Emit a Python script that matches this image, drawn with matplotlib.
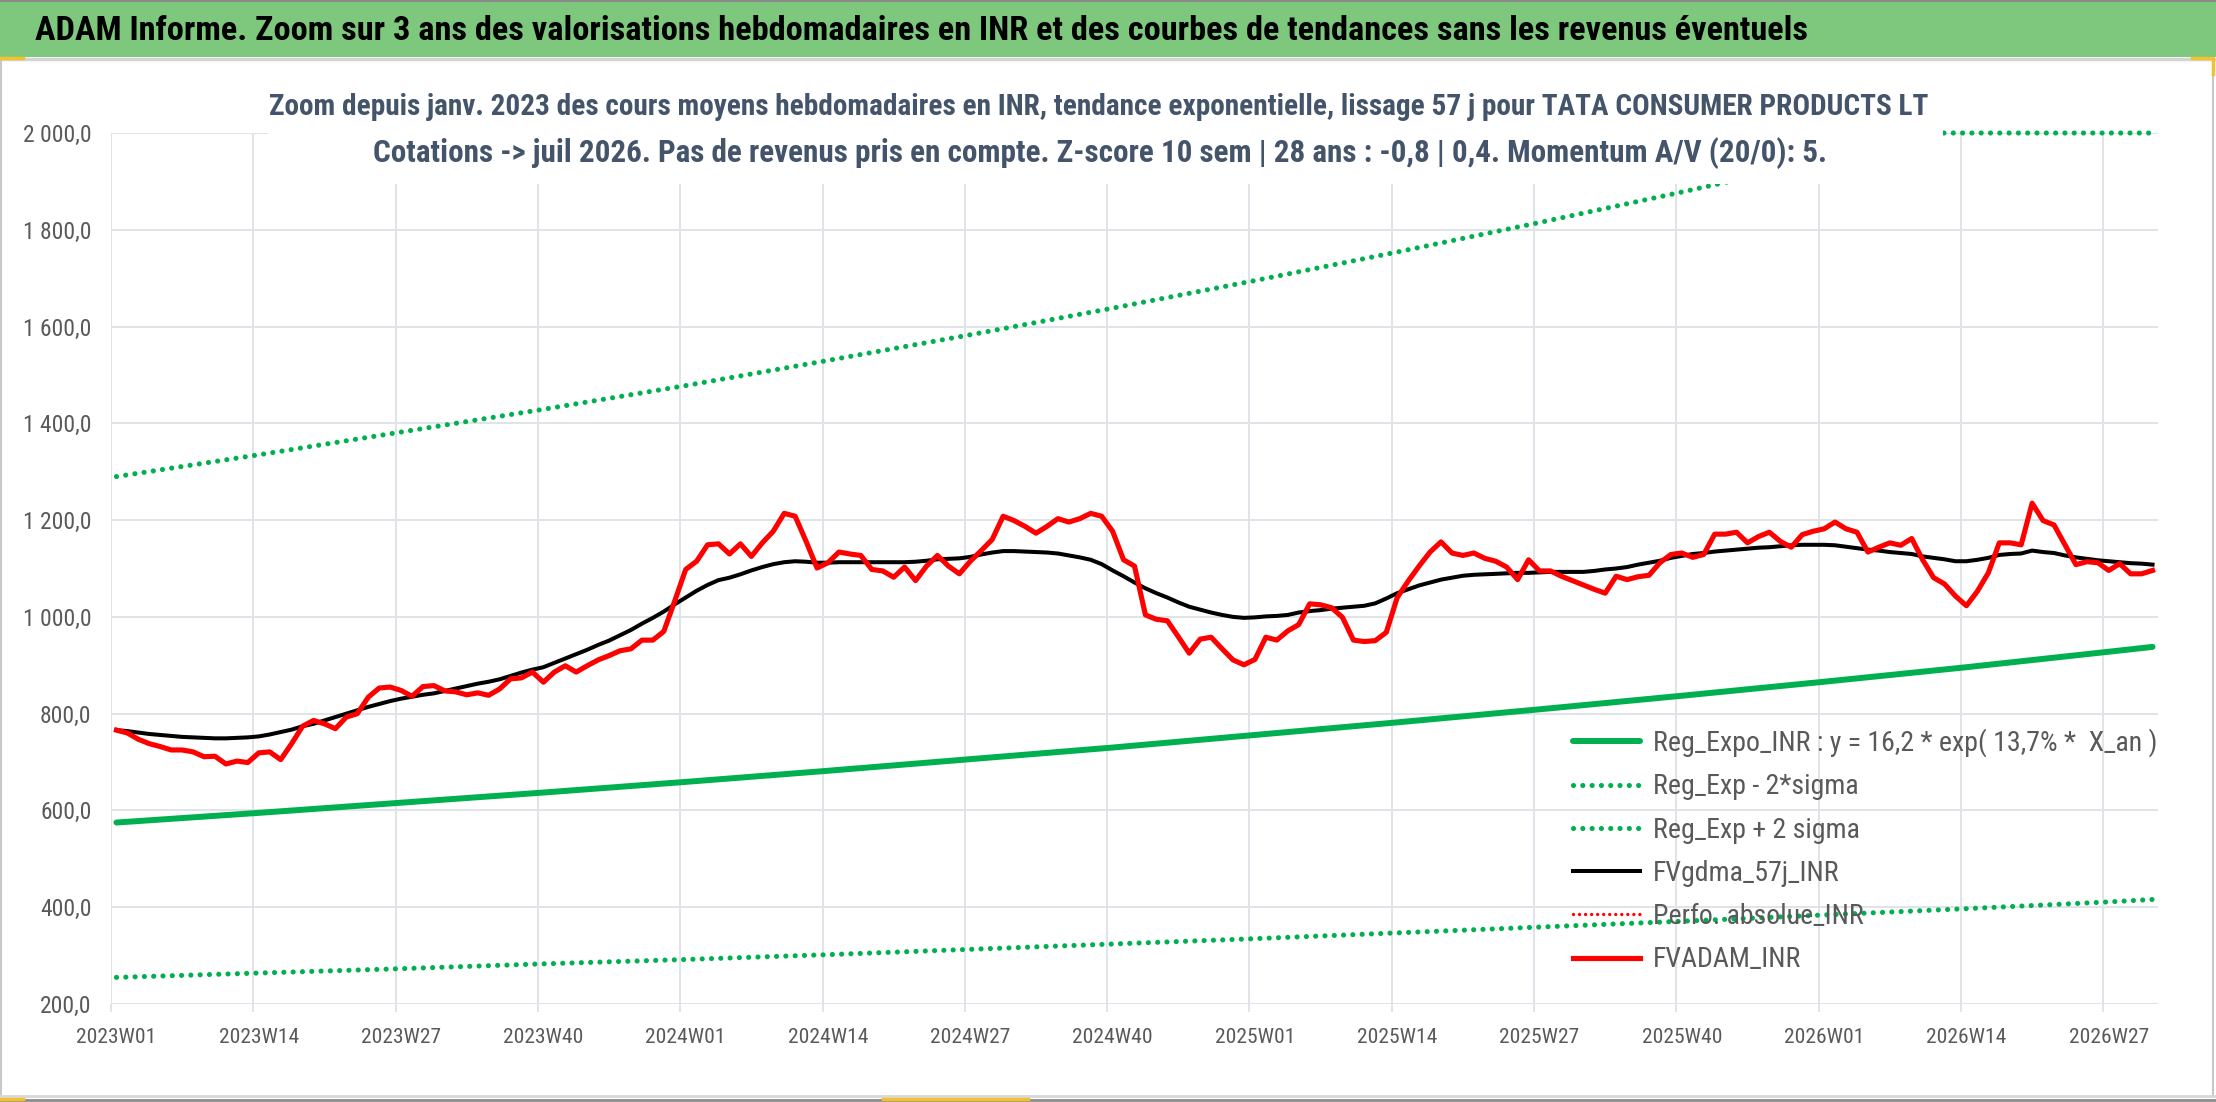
import numpy as np
import matplotlib.pyplot as plt
from matplotlib.patches import Rectangle
from matplotlib.lines import Line2D
from matplotlib.ticker import FuncFormatter

W, H = 2216, 1102
DPI = 100

plt.rcParams['font.family'] = ['Liberation Sans Narrow', 'Roboto Condensed', 'Liberation Sans',
                               'DejaVu Sans']

# weekly average price (FVADAM_INR), 2023W01 .. 2026W31
fvadam = [766, 760, 747, 738, 732, 725, 725, 721, 711, 712,
          696, 702, 699, 719, 721, 705, 738, 774, 786, 779,
          769, 793, 800, 834, 853, 855, 848, 836, 856, 858,
          847, 845, 839, 843, 838, 851, 872, 874, 886, 865,
          886, 899, 886, 899, 911, 920, 930, 934, 952, 952,
          970, 1033, 1098, 1115, 1149, 1151, 1130, 1151, 1125, 1153,
          1177, 1214, 1208, 1156, 1101, 1112, 1134, 1130, 1127, 1098,
          1095, 1082, 1103, 1075, 1105, 1127, 1105, 1089, 1115, 1137,
          1160, 1208, 1199, 1187, 1173, 1187, 1203, 1196, 1203, 1214,
          1208, 1177, 1118, 1105, 1004, 995, 992, 959, 925, 954,
          958, 934, 911, 901, 912, 958, 952, 971, 984, 1027,
          1025, 1019, 999, 952, 949, 951, 968, 1040, 1074, 1105,
          1134, 1155, 1132, 1127, 1132, 1121, 1115, 1103, 1077, 1118,
          1095, 1095, 1084, 1075, 1066, 1057, 1049, 1084, 1077, 1083,
          1086, 1112, 1129, 1132, 1123, 1129, 1171, 1171, 1175, 1153,
          1166, 1175, 1156, 1144, 1170, 1177, 1182, 1196, 1182, 1175,
          1134, 1144, 1153, 1148, 1162, 1118, 1081, 1068, 1043, 1023,
          1053, 1091, 1153, 1153, 1149, 1235, 1199, 1190, 1149, 1108,
          1114, 1112, 1096, 1110, 1089, 1089, 1096]

# 57 day smoothing (FVgdma_57j_INR)
fvgdma = [766, 764, 761, 758, 756, 754, 752, 751, 750, 749,
          749, 750, 751, 753, 757, 762, 767, 774, 779, 786,
          793, 800, 807, 814, 820, 826, 831, 835, 839, 842,
          847, 852, 857, 862, 866, 871, 878, 885, 891, 896,
          905, 914, 923, 932, 942, 951, 962, 973, 986, 998,
          1011, 1026, 1040, 1054, 1066, 1076, 1081, 1088, 1096, 1103,
          1109, 1113, 1115, 1114, 1112, 1112, 1113, 1113, 1113, 1113,
          1113, 1113, 1113, 1114, 1116, 1119, 1120, 1121, 1124, 1129,
          1133, 1136, 1136, 1135, 1134, 1133, 1131, 1127, 1123, 1118,
          1109, 1096, 1084, 1071, 1059, 1049, 1040, 1030, 1021, 1015,
          1009, 1004, 1000, 998, 999, 1001, 1002, 1004, 1009, 1012,
          1014, 1017, 1019, 1021, 1023, 1028, 1038, 1049, 1057, 1065,
          1071, 1077, 1081, 1085, 1087, 1088, 1089, 1090, 1091, 1091,
          1092, 1093, 1093, 1093, 1093, 1095, 1098, 1100, 1103, 1108,
          1112, 1116, 1122, 1126, 1130, 1132, 1135, 1137, 1139, 1141,
          1143, 1144, 1146, 1148, 1149, 1149, 1149, 1148, 1145, 1142,
          1139, 1137, 1134, 1132, 1130, 1125, 1122, 1119, 1115, 1115,
          1118, 1122, 1128, 1130, 1131, 1137, 1134, 1132, 1127, 1123,
          1120, 1117, 1115, 1113, 1111, 1110, 1108]

# exponential trend and bands, read every 13 weeks
trend_weeks = [0, 13, 26, 39, 52, 65, 78, 91, 104, 117, 130, 143, 156, 169, 182, 186]
reg_expo = [575, 595, 616, 637, 659, 682, 706, 730, 756, 782, 809, 837, 866, 896, 928, 938]
reg_low = [255, 264, 273, 283, 292, 302, 313, 324, 335, 347, 359, 371, 384, 397, 411, 416]
high_weeks = [0, 13, 26, 39, 52, 65, 78, 91, 104, 117, 130, 143, 156, 166, 186]
reg_high = [1290, 1335, 1382, 1429, 1478, 1530, 1583, 1638, 1695, 1754, 1815, 1878, 1943, 2000, 2000]

tick_labels = ['2023W01', '2023W14', '2023W27', '2023W40', '2024W01', '2024W14', '2024W27',
               '2024W40', '2025W01', '2025W14', '2025W27', '2025W40', '2026W01', '2026W14',
               '2026W27']
y_ticks = [200, 400, 600, 800, 1000, 1200, 1400, 1600, 1800, 2000]

legend_labels = ['Reg_Expo_INR : y = 16,2 * exp( 13,7% *  X_an )', 'Reg_Exp - 2*sigma',
                 'Reg_Exp + 2 sigma', 'FVgdma_57j_INR', 'Perfo. absolue_INR', 'FVADAM_INR']

header = ('ADAM Informe. Zoom sur 3 ans des valorisations hebdomadaires en INR '
          'et des courbes de tendances sans les revenus éventuels')
title_1 = ('Zoom depuis janv. 2023 des cours moyens hebdomadaires en INR, tendance exponentielle, '
           'lissage 57 j pour TATA CONSUMER PRODUCTS LT')
title_2 = ('Cotations -> juil 2026. Pas de revenus pris en compte. Z-score 10 sem | 28 ans : '
           '-0,8 | 0,4. Momentum A/V (20/0): 5.')

GREEN = '#00b050'
GRID = '#e0e3e8'
TEXT = '#595959'
HANDLE = '#f2c12e'
DOTS = (0, (0.01, 1.8))


def px_x(x):
    return x / W


def px_y(y):
    return 1 - y / H


def measure(text, size, weight='normal'):
    t = fig.text(0, 0, text, fontsize=size, fontweight=weight)
    ext = t.get_window_extent(fig.canvas.get_renderer())
    t.remove()
    return ext.width, ext.height


def size_for(text, width_px, weight='normal', base=20):
    # font size (pt) giving the text the width it has in the reference
    return base * width_px / measure(text, base, weight)[0]


fig = plt.figure(figsize=(W / DPI, H / DPI), dpi=DPI)
ax = fig.add_axes([px_x(111), px_y(1004), (2158 - 111) / W, (1004 - 133) / H])

tick_fs = size_for('2023W01', 80)
ytick_fs = size_for('1 800,0', 68)
# the longest label must stay inside the frame
leg_fs = min(size_for('Reg_Exp - 2*sigma', 234), size_for(legend_labels[0], 505))

weeks = np.arange(len(fvadam))
ax.plot(trend_weeks, reg_expo, color=GREEN, lw=4.3, solid_capstyle='round', label=legend_labels[0])
ax.plot(trend_weeks, reg_low, color=GREEN, lw=3.7, ls=DOTS, dash_capstyle='round',
        label=legend_labels[1])
ax.plot(high_weeks, reg_high, color=GREEN, lw=3.7, ls=DOTS, dash_capstyle='round',
        clip_on=False, label=legend_labels[2])
ax.plot(weeks, fvgdma, color='black', lw=2.9, label=legend_labels[3])
ax.plot([], [], color='red', lw=2.4, ls=DOTS, dash_capstyle='round', label=legend_labels[4])
ax.plot(weeks, fvadam, color='red', lw=3.7, label=legend_labels[5])

ax.set_xlim(-0.5, len(fvadam) - 0.5)
ax.set_ylim(200, 2000)

tick_pos = np.arange(len(tick_labels)) * 13
ax.set_xticks(tick_pos)
ax.set_xticklabels(tick_labels)
ax.set_xticks(tick_pos - 0.5, minor=True)
ax.tick_params(axis='x', which='major', length=0, pad=17, labelsize=tick_fs, labelcolor=TEXT)
ax.tick_params(axis='x', which='minor', length=6, width=1.4, color=GRID)
ax.grid(which='minor', axis='x', color=GRID, lw=1.4)

ax.set_yticks(y_ticks)
ax.yaxis.set_major_formatter(FuncFormatter(
    lambda v, _: f'{v:,.1f}'.replace(',', ' ').replace('.', ',')))
ax.tick_params(axis='y', length=0, pad=14, labelsize=ytick_fs, labelcolor=TEXT)
ax.grid(which='major', axis='y', color=GRID, lw=1.4)
ax.set_axisbelow(True)
for s in ax.spines.values():
    s.set_visible(False)

# legend rows are about 43 px apart in the reference, first row centred near y = 742
leg_px = leg_fs * DPI / 72
row_h = measure('Reg_Exp - 2*sigma', leg_fs)[1]
leg = ax.legend(loc='upper left', bbox_to_anchor=(px_x(1573), px_y(742 - row_h / 2)),
                bbox_transform=fig.transFigure, frameon=False, fontsize=leg_fs,
                handlelength=67 / leg_px, handletextpad=13 / leg_px,
                labelspacing=(43.2 - row_h) / leg_px, borderpad=0, borderaxespad=0)
for t in leg.get_texts():
    t.set_color(TEXT)

# header band and frame
fig.add_artist(Rectangle((0, px_y(57)), 1, 57 / H, transform=fig.transFigure,
                         facecolor='#7ec87e', edgecolor='none', zorder=1))
fig.add_artist(Line2D([0, 1], [px_y(1), px_y(1)], color='#8c8c8c', lw=1.5, zorder=2))
fig.add_artist(Line2D([0, 1], [px_y(59), px_y(59)], color='#d4d4d4', lw=2.5, zorder=2))
fig.add_artist(Line2D([px_x(1), px_x(1)], [px_y(1097), px_y(59)], color='#c8c8c8', lw=1.5, zorder=2))
fig.add_artist(Line2D([px_x(2213), px_x(2213)], [px_y(1097), px_y(59)], color='#c8c8c8', lw=1.5,
                      zorder=2))
fig.add_artist(Line2D([0, 1], [px_y(1096), px_y(1096)], color='#d8d8d8', lw=2, zorder=2))
fig.add_artist(Line2D([0, 1], [px_y(1100), px_y(1100)], color='#8c8c8c', lw=2, zorder=2))

# small selection handles of the spreadsheet frame
fig.add_artist(Line2D([0, px_x(23)], [px_y(58), px_y(58)], color=HANDLE, lw=2.5, zorder=3))
fig.add_artist(Line2D([px_x(2192), px_x(2213), px_x(2213)], [px_y(58), px_y(58), px_y(74)],
                      color=HANDLE, lw=2.5, zorder=3))
fig.add_artist(Line2D([0, px_x(23)], [px_y(1099), px_y(1099)], color=HANDLE, lw=2.5, zorder=3))
fig.add_artist(Line2D([px_x(883), px_x(1028)], [px_y(1099), px_y(1099)], color=HANDLE, lw=2.5,
                      zorder=3))

# white box behind the chart title
fig.add_artist(Rectangle((px_x(268), px_y(184)), (1943 - 268) / W, (184 - 85) / H,
                         transform=fig.transFigure, facecolor='white', edgecolor='none', zorder=1))

fig.text(px_x(35), px_y(31), header, ha='left', va='center',
         fontsize=size_for(header, 1774, 'bold'), fontweight='bold', color='black', zorder=3)
fig.text(px_x(1099), px_y(107), title_1, ha='center', va='center',
         fontsize=size_for(title_1, 1652, 'bold'), fontweight='bold', color='#44546a', zorder=3)
fig.text(px_x(1100), px_y(153), title_2, ha='center', va='center',
         fontsize=size_for(title_2, 1453, 'bold'), fontweight='bold', color='#44546a', zorder=3)

fig.savefig('out.png', dpi=DPI)
